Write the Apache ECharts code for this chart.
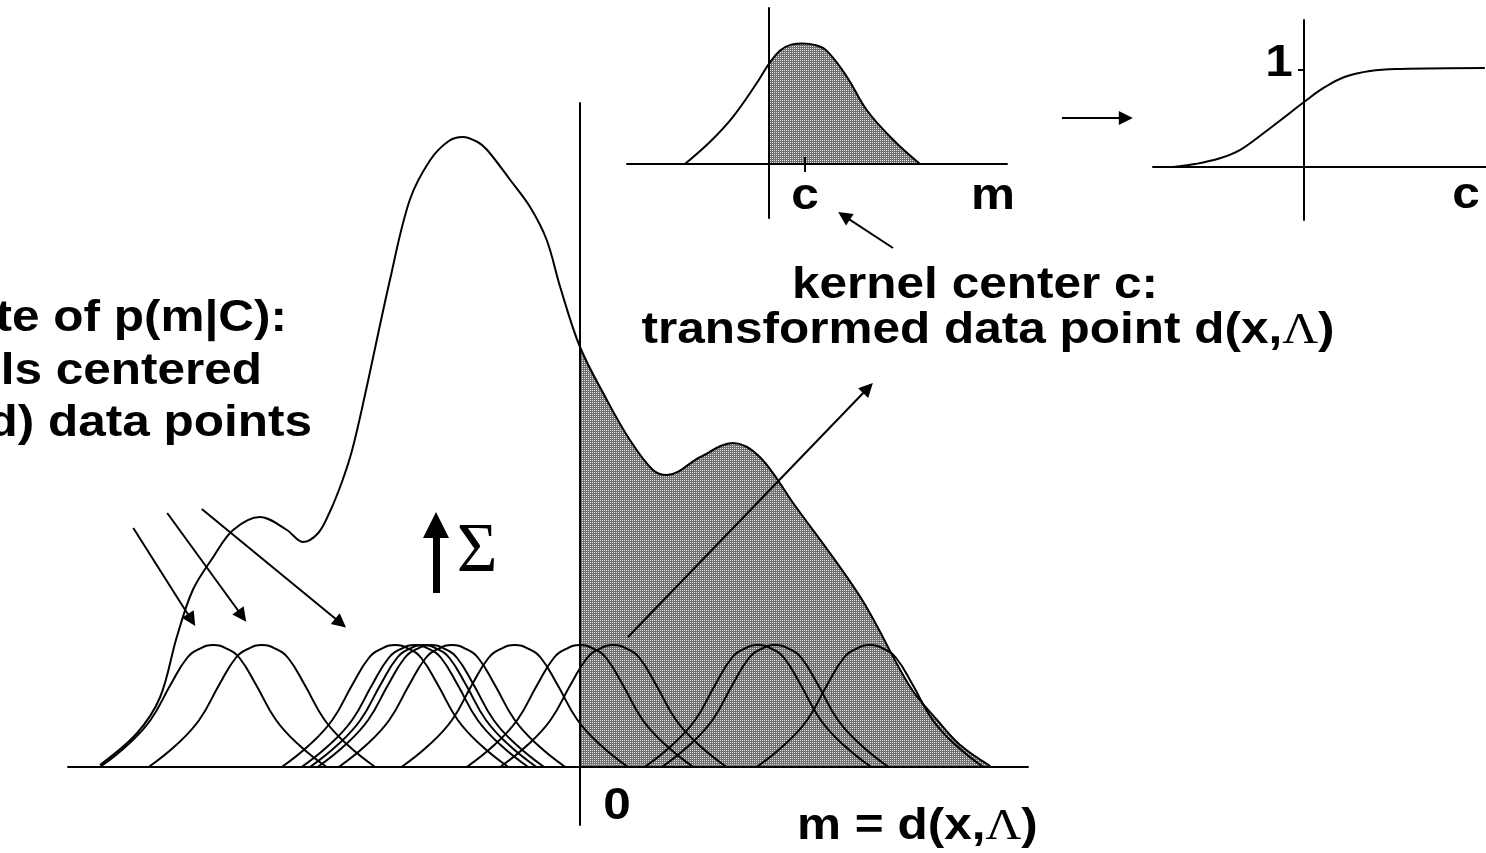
<!DOCTYPE html>
<html>
<head>
<meta charset="utf-8">
<script src="https://cdn.jsdelivr.net/npm/echarts@6/dist/echarts.min.js"></script>
<style>
html, body { margin: 0; padding: 0; background: #fff; }
#chart { width: 1486px; height: 853px; }
</style>
</head>
<body>
<div id="chart"></div>
<script>
// kernel centres on the m axis (the transformed data points)
const kernelCenters = [-5.73, -4.97, -2.89, -2.58, -2.45, -2.33, -2.0, -1.02, 0.0, 0.52, 2.78, 3.05, 4.53];
// one kernel: offset from its centre and height
const kernelOffsets = [-1.77, -1.34, -0.98, -0.67, -0.41, -0.22, 0, 0.22, 0.41, 0.67, 0.98, 1.34, 1.77];
const kernelHeights = [0, 0.22, 0.47, 0.82, 1.09, 1.18, 1.22, 1.18, 1.09, 0.82, 0.47, 0.22, 0];

// estimate of p(m|C)
const densityM = [-7.5, -6.92, -6.56, -6.30, -6.05, -5.73, -5.42, -5.0, -4.58, -4.33, -4.09, -3.91, -3.72, -3.56,
  -3.36, -2.97, -2.66, -2.34, -2.05, -1.83, -1.6, -1.45, -1.09, -0.78, -0.52, -0.31, 0, 0.42, 0.78, 1.14, 1.36,
  1.88, 2.39, 2.81, 3.33, 4.38, 5.16, 5.58, 5.94, 6.41];
const densityP = [0.02, 0.34, 0.70, 1.30, 1.77, 2.10, 2.37, 2.50, 2.37, 2.25, 2.34, 2.55, 2.85, 3.17,
  3.72, 4.87, 5.67, 6.07, 6.26, 6.30, 6.25, 6.17, 5.87, 5.60, 5.27, 4.80, 4.20, 3.67, 3.27, 2.97, 2.92,
  3.10, 3.24, 3.10, 2.64, 1.70, 0.80, 0.47, 0.22, 0.01];

// small inset: one kernel around c
const insetM = [-2.37, -1.66, -1.01, -0.35, 0.01, 0.31, 0.62, 0.95, 1.28, 1.62, 2.19, 2.75, 3.50, 4.25];
const insetP = [0, 0.74, 1.58, 2.69, 3.36, 3.78, 3.98, 4.02, 3.97, 3.78, 2.91, 1.80, 0.80, 0];

// right inset: shaded mass as a function of c
const sigmoidC = [-3.47, -2.89, -2.23, -1.70, -1.17, -0.58, 0, 0.56, 1.09, 1.75, 2.54, 4.79];
const sigmoidP = [0, 0.03, 0.09, 0.175, 0.32, 0.495, 0.67, 0.825, 0.93, 0.99, 1.01, 1.02];

const zip = (xs, ys) => xs.map((x, i) => [x, ys[i]]);

// dithered grey fill like the original
const dots = document.createElement('canvas');
dots.width = 2;
dots.height = 2;
const g = dots.getContext('2d');
g.fillStyle = '#707070';
g.fillRect(0, 0, 2, 2);
g.fillStyle = '#e0e0e0';
g.fillRect(0, 0, 1, 1);
const shade = { image: dots, repeat: 'repeat' };

const SANS = '"Liberation Sans", Arial, sans-serif';
const SERIF = '"Liberation Serif", "Times New Roman", serif';

function axis(gridIndex, min, max, show) {
    return {
        type: 'value', gridIndex, min, max, show, z: 5,
        axisLine: { show: true, onZero: true, lineStyle: { color: '#000', width: 2 } },
        axisTick: { show: false },
        axisLabel: { show: false },
        splitLine: { show: false }
    };
}

function curve(xi, data, extra) {
    return Object.assign({
        type: 'line', xAxisIndex: xi, yAxisIndex: xi, data,
        smooth: 0.4, symbol: 'none', silent: true, z: 3,
        lineStyle: { color: '#000', width: 2 }
    }, extra);
}

function arrows(xi, segs, width, size) {
    return {
        type: 'lines', coordinateSystem: 'cartesian2d', xAxisIndex: xi, yAxisIndex: xi,
        clip: false, silent: true, z: 6,
        symbol: ['none', size ? 'triangle' : 'none'], symbolSize: size || 0,
        lineStyle: { color: '#000', width, opacity: 1, curveness: 0 },
        data: segs.map(s => ({ coords: s }))
    };
}

function txt(text, x, y, align, extra) {
    return {
        type: 'text', x, y, scaleX: 1.1, silent: true, z: 10,
        style: Object.assign({
            text, fill: '#000', fontFamily: SANS, fontWeight: 'bold', fontSize: 45,
            align, textAlign: align, verticalAlign: 'middle', textVerticalAlign: 'middle'
        }, extra)
    };
}

const lambda = { rich: { s: { fontFamily: SERIF, fontWeight: 'normal', fontSize: 45 } } };

const kernelSeries = kernelCenters.map(c =>
    curve(0, kernelOffsets.map((o, i) => [c + o, kernelHeights[i]]), { smooth: 0.45 })
);

const myCharts = echarts.init(document.getElementById('chart'), null, { renderer: 'canvas' });

myCharts.setOption({
    animation: false,
    backgroundColor: '#fff',
    grid: [
        { left: 68, right: 458, top: 103, bottom: 28 },   // main m axis
        { left: 580, right: 458, top: 103, bottom: 28 },  // m >= 0 part, for the shading
        { left: 627, right: 479, top: 8, bottom: 635 },   // kernel inset
        { left: 769, right: 479, top: 8, bottom: 635 },   // kernel inset, right of 0
        { left: 1153, right: 0, top: 20, bottom: 633 }    // cumulative inset
    ],
    xAxis: [
        axis(0, -8, 7, true),
        axis(1, 0, 7, false),
        axis(2, -4, 6.7, true),
        axis(3, 0, 6.7, false),
        axis(4, -4, 4.82, true)
    ],
    yAxis: [
        axis(0, -0.58, 6.64, true),
        axis(1, -0.58, 6.64, false),
        axis(2, -1.8, 5.2, true),
        axis(3, -1.8, 5.2, false),
        Object.assign(axis(4, -0.546, 1.515, true), {
            axisTick: { show: true, customValues: [1], length: 6, lineStyle: { color: '#000', width: 2 } }
        })
    ],
    series: [
        curve(1, zip(densityM, densityP), { z: 1, lineStyle: { width: 0 }, areaStyle: { color: shade, opacity: 1 } }),
        curve(3, zip(insetM, insetP), { z: 1, lineStyle: { width: 0 }, areaStyle: { color: shade, opacity: 1 } }),
        ...kernelSeries,
        curve(0, zip(densityM, densityP), { smooth: 0.35 }),
        curve(2, zip(insetM, insetP)),
        curve(4, zip(sigmoidC, sigmoidP)),
        // arrows pointing at the kernels
        arrows(0, [
            [[-6.98, 2.39], [-6.07, 1.47]],
            [[-6.45, 2.54], [-5.28, 1.51]],
            [[-5.91, 2.58], [-3.74, 1.44]],
            [[0.75, 1.30], [4.50, 3.79]]
        ], 2, 14),
        // summation arrow
        arrows(0, [[[-2.25, 1.74], [-2.25, 2.42]]], 7, 26),
        // tick at c and arrow from the caption
        arrows(2, [[[1, -0.27], [1, 0.23]]], 2, 0),
        arrows(2, [[[3.49, -2.8], [2.11, -1.73]]], 2, 14),
        // arrow between the two insets
        arrows(4, [[[-6.41, 0.505], [-4.72, 0.505]]], 2, 14)
    ],
    graphic: [
        txt('te of p(m|C):', 287, 319, 'right'),
        txt('ls centered', 262, 372, 'right'),
        txt('d) data points', 312, 424, 'right'),
        txt('kernel center c:', 975, 286, 'center'),
        txt('transformed data point d(x,{s|Λ})', 988, 331, 'center', lambda),
        txt('c', 805, 197, 'center'),
        txt('m', 993, 197, 'center'),
        txt('1', 1279, 64, 'center'),
        txt('c', 1466, 196, 'center'),
        txt('0', 617, 807, 'center'),
        txt('m = d(x,{s|Λ})', 797, 827, 'left', lambda),
        {
            type: 'text', x: 477, y: 553, silent: true, z: 10,
            style: { text: 'Σ', fill: '#000', fontFamily: SERIF, fontSize: 70,
                align: 'center', textAlign: 'center', verticalAlign: 'middle', textVerticalAlign: 'middle' }
        }
    ]
});
</script>
</body>
</html>
